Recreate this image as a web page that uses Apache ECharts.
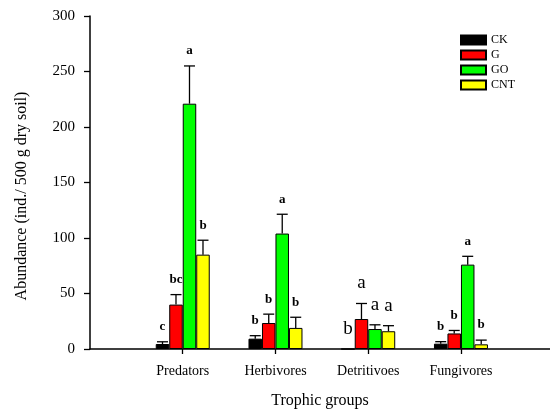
<!DOCTYPE html>
<html><head><meta charset="utf-8">
<script src="https://cdn.jsdelivr.net/npm/echarts@6/dist/echarts.min.js"></script>
<style>html,body{margin:0;padding:0;background:#fff}#c{width:550px;height:412px}</style>
</head><body><div id="c"></div>
<script>
const categories = ['Predators', 'Herbivores', 'Detritivoes', 'Fungivores'];
const treatments = ['CK', 'G', 'GO', 'CNT'];
const ckVals  = [4.5, 9.3, 0, 4.8];
const gVals   = [40, 23.4, 27, 14];
const goVals  = [221, 104, 18, 76];
const cntVals = [85, 19, 16, 4.2];
const ckErr  = [2, 2.7, 0, 1.8];
const gErr   = [9, 8, 14, 2.7];
const goErr  = [34, 17.4, 3.8, 7.5];
const cntErr = [13, 9.6, 5, 3.8];
const ckLetters  = ['c', 'b', 'b', 'b'];
const gLetters   = ['bc', 'b', 'a', 'b'];
const goLetters  = ['a', 'a', 'a', 'a'];
const cntLetters = ['b', 'b', 'a', 'b'];
const yTicks = [0, 50, 100, 150, 200, 250, 300];

const colors = ['#000000', '#ff0000', '#00ff00', '#ffff00'];
const letterSize = [13, 13, 19, 13];
const BAR_W = 13.5;
const CAP = 11;
const SERIF = '"Liberation Serif", "Times New Roman", serif';

const vals = [ckVals, gVals, goVals, cntVals];
const errs = [ckErr, gErr, goErr, cntErr];
const letters = [ckLetters, gLetters, goLetters, cntLetters];

const series = [];
treatments.forEach((t, k) => {
  series.push({
    type: 'bar', name: t,
    data: vals[k].map((v, i) => [i + 1, v]),
    barWidth: BAR_W, barGap: '0%',
    itemStyle: { color: colors[k], borderColor: '#000', borderWidth: 1 },
    z: 2
  });
});
treatments.forEach((t, k) => {
  series.push({
    type: 'custom', name: t + ' err', z: 5,
    data: vals[k].map((v, i) => [i + 1, v, errs[k][i]]),
    renderItem: function (params, api) {
      const x = api.value(0), v = api.value(1), e = api.value(2);
      const ci = params.dataIndex;
      const off = (k - 1.5) * BAR_W;
      const base = api.coord([x, v]);
      const top = api.coord([x, v + e]);
      const cx = base[0] + off;
      const children = [];
      if (e > 0) {
        children.push({ type: 'line', shape: { x1: cx, y1: base[1], x2: cx, y2: top[1] }, style: { stroke: '#000', lineWidth: 1.3 } });
        children.push({ type: 'line', shape: { x1: cx - CAP / 2, y1: top[1], x2: cx + CAP / 2, y2: top[1] }, style: { stroke: '#000', lineWidth: 1.3 } });
      }
      const fs = letterSize[ci];
      const big = fs > 14;
      children.push({
        type: 'text', x: cx, y: top[1] - (big ? 20 : 15),
        style: { text: letters[k][ci], align: 'center', verticalAlign: 'middle',
          font: (big ? 'normal ' : 'bold ') + fs + 'px ' + SERIF, fill: '#000' }
      });
      return { type: 'group', children: children };
    }
  });
});

const chart = echarts.init(document.getElementById('c'));
chart.setOption({
  animation: false,
  backgroundColor: '#fff',
  grid: { left: 90, right: 0, top: 16, bottom: 63, containLabel: false, outerBoundsMode: 'none' },
  legend: {
    data: treatments, orient: 'vertical', left: 460, top: 34, padding: 0,
    itemWidth: 25, itemHeight: 9, itemGap: 3, icon: 'rect', selectedMode: false,
    textStyle: { fontFamily: SERIF, fontSize: 12, color: '#000' }
  },
  xAxis: {
    type: 'value', min: 0, max: 4.96, interval: 1,
    name: 'Trophic groups', nameLocation: 'middle', nameGap: 44,
    nameTextStyle: { fontFamily: SERIF, fontSize: 16, color: '#000' },
    axisLine: { show: true, onZero: false, lineStyle: { color: '#000', width: 1.5 } },
    axisTick: { show: true, inside: false, length: 5, customValues: [1, 2, 3, 4], lineStyle: { color: '#000', width: 1.3 } },
    axisLabel: { customValues: [1, 2, 3, 4], formatter: v => categories[Math.round(v) - 1] || '', margin: 15,
      fontFamily: SERIF, fontSize: 14, color: '#000' },
    splitLine: { show: false }
  },
  yAxis: {
    type: 'value', min: 0, max: 300, interval: 50,
    axisLine: { show: true, lineStyle: { color: '#000', width: 1.5 } },
    axisTick: { show: true, inside: false, length: 6, lineStyle: { color: '#000', width: 1.3 } },
    axisLabel: { margin: 15, fontFamily: SERIF, fontSize: 15, color: '#000',
      customValues: yTicks },
    splitLine: { show: false }
  },
  graphic: [{
    type: 'text', x: 22, y: 196, rotation: Math.PI / 2,
    style: { text: 'Abundance (ind./ 500 g dry soil)', align: 'center', verticalAlign: 'middle',
      font: '16px ' + SERIF, fill: '#000' }
  }],
  series: series
});
</script></body></html>
